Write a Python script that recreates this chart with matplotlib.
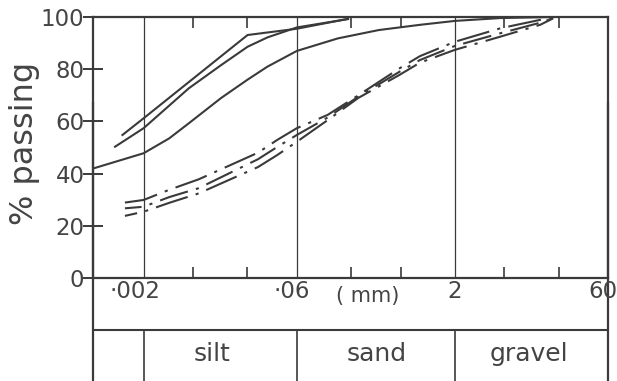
import matplotlib
matplotlib.use("Agg")
import matplotlib.pyplot as plt
from matplotlib.ticker import FixedLocator, NullLocator

plt.rcParams['font.family'] = ['DejaVu Sans']

# ---- data (grain size in mm, % passing) ----
solid_a_x = [0.00125, 0.002, 0.0201, 0.06, 0.187]
solid_a_y = [54.8, 61.2, 93.1, 95.5, 99.3]

solid_b_x = [0.00106, 0.002, 0.00546, 0.0112, 0.0201, 0.0313, 0.06, 0.187]
solid_b_y = [50.3, 57.4, 72.7, 81.6, 88.6, 92.2, 96.0, 99.2]

solid_c_x = [0.000657, 0.002, 0.00353, 0.00546, 0.0112, 0.0201, 0.0313, 0.06,
             0.149, 0.370, 0.922, 2.0, 5.53, 17.8]
solid_c_y = [42.0, 47.8, 53.5, 59.3, 69.0, 76.0, 81.0, 87.0,
             91.8, 95.0, 97.0, 98.5, 99.6, 100.0]

dash_x = [0.00132, 0.002, 0.00353, 0.00678, 0.0253, 0.0388, 0.06, 0.119, 0.235,
          0.585, 0.922, 2.0, 5.53, 13.3, 17.8]
dash_top_y = [28.9, 29.9, 33.8, 37.8, 48.0, 52.9, 57.4, 62.5, 70.0,
              80.3, 85.0, 90.5, 95.7, 98.9, 99.5]
dash_mid_y = [26.7, 27.3, 31.0, 34.4, 45.5, 50.2, 54.8, 61.5, 69.5,
              79.0, 83.5, 88.9, 93.8, 97.8, 99.5]
dash_bot_y = [23.8, 25.4, 28.8, 32.4, 42.5, 47.1, 52.2, 60.5, 69.0,
              77.8, 82.5, 87.4, 92.5, 97.0, 99.5]

boundaries = [0.002, 0.06, 2, 60]
boundary_labels = ['·002', '·06', '2', '60']
minor_ticks = [0.006, 0.02, 0.2, 0.6, 6, 20]
y_ticks = [0, 20, 40, 60, 80, 100]
soil_names = ['silt', 'sand', 'gravel']
soil_centers = [0.0105, 0.35, 11.0]

ink = '#3a3a3a'
txt = '#444444'
W, H = 617, 381
fig = plt.figure(figsize=(W / 100, H / 100), dpi=100)
fig.patch.set_facecolor('white')

L, R, T, B = 93, 608, 17, 278
ax = fig.add_axes([L / W, 1 - B / H, (R - L) / W, (B - T) / H])
ax.set_xscale('log')
ax.set_xlim(0.00065, 60)
ax.set_ylim(0, 100)

for sp in ax.spines.values():
    sp.set_color(ink)
    sp.set_linewidth(1.6)

for b in boundaries[:3]:
    ax.axvline(b, color=ink, lw=0.9, zorder=1)

lw = 1.5
ax.plot(solid_a_x, solid_a_y, color=ink, lw=lw)
ax.plot(solid_b_x, solid_b_y, color=ink, lw=lw)
ax.plot(solid_c_x, solid_c_y, color=ink, lw=lw)
ax.plot(dash_x, dash_top_y, color=ink, lw=lw, linestyle=(0, (16, 4, 1.5, 4)))
ax.plot(dash_x, dash_mid_y, color=ink, lw=lw, linestyle=(6, (14, 4, 1.5, 4)))
ax.plot(dash_x, dash_bot_y, color=ink, lw=lw, linestyle=(10, (16, 4, 1.5, 4)))

ax.xaxis.set_major_locator(NullLocator())
ax.xaxis.set_minor_locator(FixedLocator(minor_ticks))
ax.tick_params(axis='x', which='minor', direction='in', length=8, width=1.2,
               color=ink, top=True, bottom=True, labelbottom=False)
ax.set_yticks(y_ticks)
ax.tick_params(axis='y', which='major', direction='inout', length=14.4, width=1.4,
               color=ink, pad=-1.0, labelsize=16.5, labelcolor=txt)

# lower classification box
ax2 = fig.add_axes([L / W, 0, (R - L) / W, B / H])
ax2.set_xscale('log')
ax2.set_xlim(0.00065, 60)
ax2.set_ylim(0, B)
ax2.patch.set_alpha(0)
ax2.set_xticks([])
ax2.set_yticks([])
ax2.xaxis.set_minor_locator(NullLocator())
for k in ['top', 'bottom']:
    ax2.spines[k].set_visible(False)
for k in ['left', 'right']:
    ax2.spines[k].set_color(ink)
    ax2.spines[k].set_linewidth(1.6)
yline = H - 330
ax2.axhline(yline, color=ink, lw=1.5)
for b in boundaries[:3]:
    ax2.plot([b, b], [0, yline], color=ink, lw=1.2)

offsets = [-9, -5, 0, -5]
for b, lab, off in zip(boundaries, boundary_labels, offsets):
    ax2.annotate(lab, xy=(b, H - 292), xycoords='data', xytext=(off, 0),
                 textcoords='offset pixels', ha='center', va='center',
                 fontsize=16.5, color=txt)
ax2.annotate('( mm)', xy=(0.06, H - 296), xycoords='data', xytext=(71, 0),
             textcoords='offset pixels', ha='center', va='center',
             fontsize=15, color=txt)
for name, cx, off in zip(soil_names, soil_centers, [-6, 0, -3]):
    ax2.annotate(name, xy=(cx, H - 354), xycoords='data', xytext=(off, 0),
                 textcoords='offset pixels', ha='center', va='center',
                 fontsize=18, color=txt)

fig.text(25 / W, 1 - 143 / H, '% passing', rotation=90, ha='center', va='center',
         fontsize=23, color=txt)

fig.savefig('out.png', dpi=100, facecolor='white')
